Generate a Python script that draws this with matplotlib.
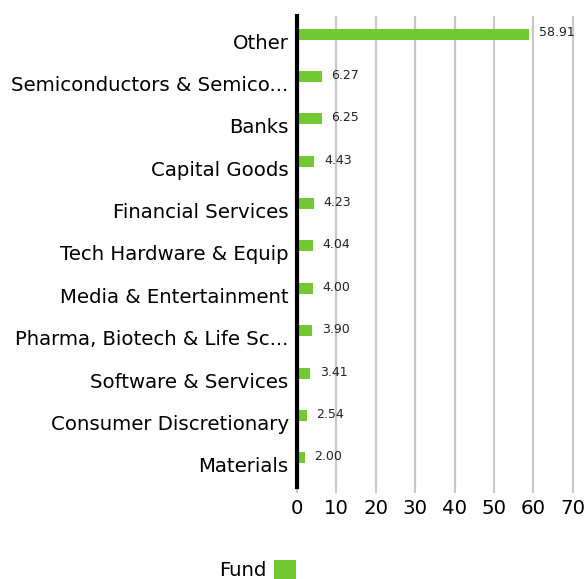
import numpy as np
import matplotlib
matplotlib.use("Agg")
import matplotlib.pyplot as plt

categories = ["Other", "Semiconductors & Semico...", "Banks", "Capital Goods",
              "Financial Services", "Tech Hardware & Equip", "Media & Entertainment",
              "Pharma, Biotech & Life Sc...", "Software & Services",
              "Consumer Discretionary", "Materials"]
values = [58.91, 6.27, 6.25, 4.43, 4.23, 4.04, 4.00, 3.90, 3.41, 2.54, 2.00]
xticks = [0, 10, 20, 30, 40, 50, 60, 70]

green = "#72c934"
plt.rcParams['font.family'] = ['DejaVu Sans']

fig = plt.figure(figsize=(5.87, 5.79), dpi=100)
ax = fig.add_axes([0.506, 1 - 487 / 579, 0.494, (487 - 16) / 579])

y = np.arange(len(categories))
ax.barh(y - 0.165, values, height=0.26, color=green, label="Fund", zorder=3)
for yi, v in zip(y, values):
    ax.text(v + 2.4, yi - 0.19, f"{v:.2f}", va="center", ha="left", fontsize=9, color="#222222")

ax.set_yticks(y)
ax.set_yticklabels(categories, fontsize=14.2)
ax.set_ylim(10.52, -0.59)
ax.set_xlim(0, 73.6)
ax.set_xticks(xticks)
ax.set_xticklabels([str(t) for t in xticks], fontsize=14.2)
ax.tick_params(axis='y', length=0, pad=6)
ax.tick_params(axis='x', length=4, color="#c8c8c8", width=1.5, pad=5)

ax.grid(axis='x', color="#c8c8c8", linewidth=1.6, zorder=0)
for s in ["top", "right", "bottom"]:
    ax.spines[s].set_visible(False)
ax.spines["left"].set_color("black")
ax.spines["left"].set_linewidth(3)
ax.spines["left"].set_zorder(4)

fig.legend(loc="lower left", bbox_to_anchor=(0.343, -0.032), frameon=False, fontsize=14.2,
           markerfirst=False, handlelength=1.1, handleheight=1.1, handletextpad=0.4)

fig.savefig("out.png", dpi=100)
